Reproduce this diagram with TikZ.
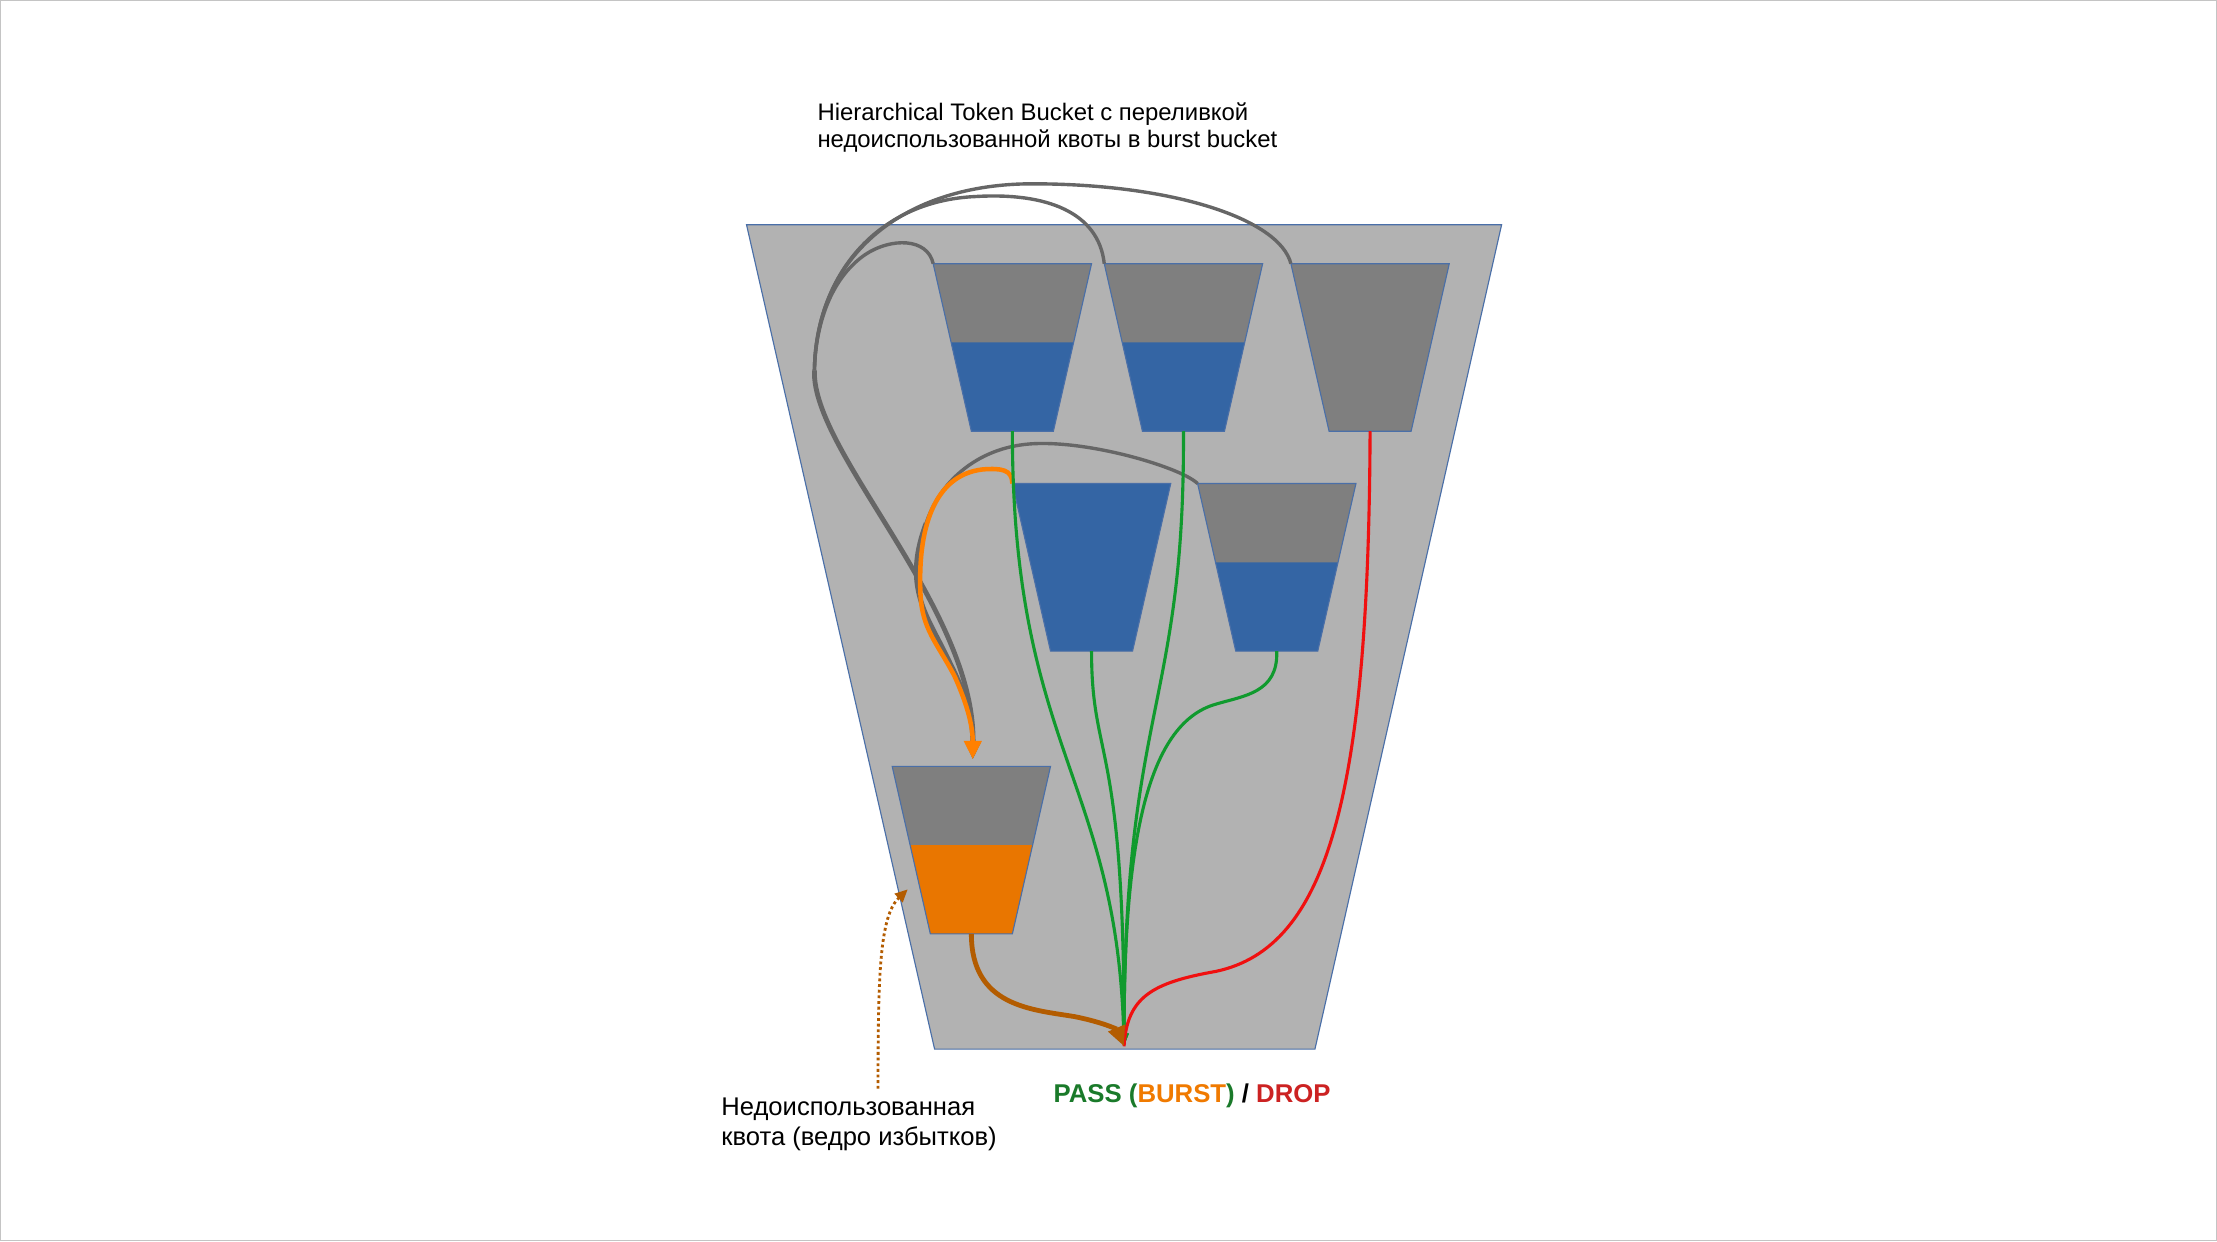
\documentclass[tikz,border=0pt]{standalone}
\usepackage{fontspec}
\setmainfont{Liberation Sans}
\usetikzlibrary{arrows.meta,calc}
\definecolor{framec}{HTML}{C4C4C4}
\definecolor{trapfill}{HTML}{B2B2B2}
\definecolor{edgec}{HTML}{4A6FA8}
\definecolor{bgrey}{HTML}{7F7F7F}
\definecolor{bblue}{HTML}{3465A4}
\definecolor{borange}{HTML}{E97600}
\definecolor{flowgrey}{HTML}{666666}
\definecolor{floworange}{HTML}{FF8000}
\definecolor{flowgreen}{HTML}{109A2E}
\definecolor{flowred}{HTML}{F01010}
\definecolor{flowbrown}{HTML}{B35C00}
\definecolor{passg}{HTML}{1A7A2A}
\definecolor{burstc}{HTML}{F07A00}
\definecolor{dropc}{HTML}{CC2222}
\tikzset{
  edgeline/.style={draw=edgec, line width=0.8pt},
  greyflow/.style={draw=flowgrey, line width=3.4pt, -{Triangle[length=12pt,width=10pt]}},
  greyarc/.style={draw=flowgrey, line width=2.4pt},
  orangeflow/.style={draw=floworange, line width=3.2pt, -{Triangle[length=13pt,width=12pt]}},
  greenflow/.style={draw=flowgreen, line width=2.2pt, -{Triangle[length=9pt,width=6pt]}},
  redflow/.style={draw=flowred, line width=2.2pt},
  brownflow/.style={draw=flowbrown, line width=3.4pt, -{Triangle[length=14pt,width=12pt]}},
  dotflow/.style={draw=flowbrown, line width=2pt, dotted, -{Triangle[length=9pt,width=8pt]}},
  titletext/.style={inner sep=0pt, font=\fontsize{16.9}{19}\selectfont},
  labeltext/.style={inner sep=0pt, font=\fontsize{18.1}{21}\selectfont},
  passtext/.style={inner sep=0pt, font=\fontsize{18.2}{21}\selectfont\bfseries},
}
% bucket: name, centre x, top y, fill level (fraction from top), fill colour
\newcommand\bkt[5]{%
  \coordinate (#1tl) at (#2-56,#3);
  \coordinate (#1tr) at (#2+56,#3);
  \coordinate (#1bl) at (#2-29,#3+118.5);
  \coordinate (#1br) at (#2+29,#3+118.5);
  \coordinate (#1b) at (#2,#3+118.5);
  \fill[bgrey] (#1tl)--(#1tr)--(#1br)--(#1bl)--cycle;
  \fill[#5] ($(#1tl)!#4!(#1bl)$) -- ($(#1tr)!#4!(#1br)$) -- (#1br) -- (#1bl) -- cycle;
  \draw[edgeline] (#1tl)--(#1tr)--(#1br)--(#1bl)--cycle;
}
\begin{document}
\begin{tikzpicture}[x=1pt,y=-1pt]
\useasboundingbox (0,0) rectangle (1568,878);
\fill[white] (0,0) rectangle (1568,878);
\draw[framec, line width=1pt] (0.5,0.5) rectangle (1567.5,877.5);

% big funnel
\coordinate (ftl) at (528,159);
\coordinate (ftr) at (1062,159);
\coordinate (fbr) at (930,742);
\coordinate (fbl) at (661,742);
\filldraw[fill=trapfill, edgeline] (ftl)--(ftr)--(fbr)--(fbl)--cycle;

% buckets
\bkt{ba}{716}{186.5}{0.47}{bblue}
\bkt{bb}{837}{186.5}{0.47}{bblue}
\bkt{bc}{969}{186.5}{1}{bgrey}
\bkt{bd}{772}{342}{0}{bblue}
\bkt{be}{903}{342}{0.47}{bblue}
\bkt{bf}{687}{542}{0.47}{borange}

\coordinate (merge) at (576,262);
\coordinate (fin) at (688,537);
\coordinate (out) at (795,740);
\coordinate (dotstart) at (621,770);
\coordinate (dotend) at (642,629);

% grey overflow arcs
\draw[greyarc] (batl) .. controls (656,168) and (630,168) .. (612,180) .. controls (590,195) and (577,225) .. (merge);
\draw[greyarc] (bbtl) .. controls (777,150) and (740,136) .. (690,139) .. controls (620,142) and (577,195) .. (merge);
\draw[greyarc] (bctl) .. controls (905,155) and (830,130) .. (730,130) .. controls (640,130) and (577,180) .. (merge);
\draw[greyflow] (merge) .. controls (574,320) and (690,430) .. (fin);
\draw[greyarc] (betl) .. controls (835,330) and (760,308) .. (720,315) .. controls (690,320) and (665,340) .. (655,370);
\draw[greyflow] (655,370) .. controls (640,410) and (652,430) .. (665,455) .. controls (680,485) and (688,500) .. (fin);

% orange overflow
\draw[orangeflow] (bdtl) .. controls (716,332) and (708,331) .. (695,332) .. controls (660,336) and (649,375) .. (651,420) .. controls (652,445) and (663,455) .. (675,478) .. controls (685,500) and (688,515) .. (fin);

% green pass flows
\draw[greenflow] (bab) .. controls (716,530) and (790,550) .. (out);
\draw[greenflow] (bdb) .. controls (772,540) and (795,520) .. (out);
\draw[greenflow] (bbb) .. controls (838,500) and (795,500) .. (out);
\draw[greenflow] (beb) .. controls (904,490) and (880,492) .. (860,498) .. controls (810,512) and (795,600) .. (out);

% red drop flow
\draw[redflow] (bcb) .. controls (968,560) and (940,670) .. (860,687) .. controls (815,695) and (797,705) .. (out);

% brown burst flow
\draw[brownflow] (bfb) .. controls (687,712) and (730,714) .. (760,719) .. controls (780,723) and (790,728) .. (out);

% dotted pointer
\draw[dotflow] (dotstart) .. controls (621,690) and (622,648) .. (dotend);

% texts
\node[titletext, anchor=base west] (t1) at (578,85) {Hierarchical Token Bucket с переливкой};
\node[titletext, anchor=base west] (t2) at (578,104) {недоиспользованной квоты в burst bucket};
\node[labeltext, anchor=base west] (l1) at (510,789) {Недоиспользованная};
\node[labeltext, anchor=base west] (l2) at (510,810) {квота (ведро избытков)};
\node[passtext, anchor=base west] (pd) at (745,780) {\textcolor{passg}{PASS (}\textcolor{burstc}{BURST}\textcolor{passg}{)} / \textcolor{dropc}{DROP}};
\end{tikzpicture}
\end{document}
